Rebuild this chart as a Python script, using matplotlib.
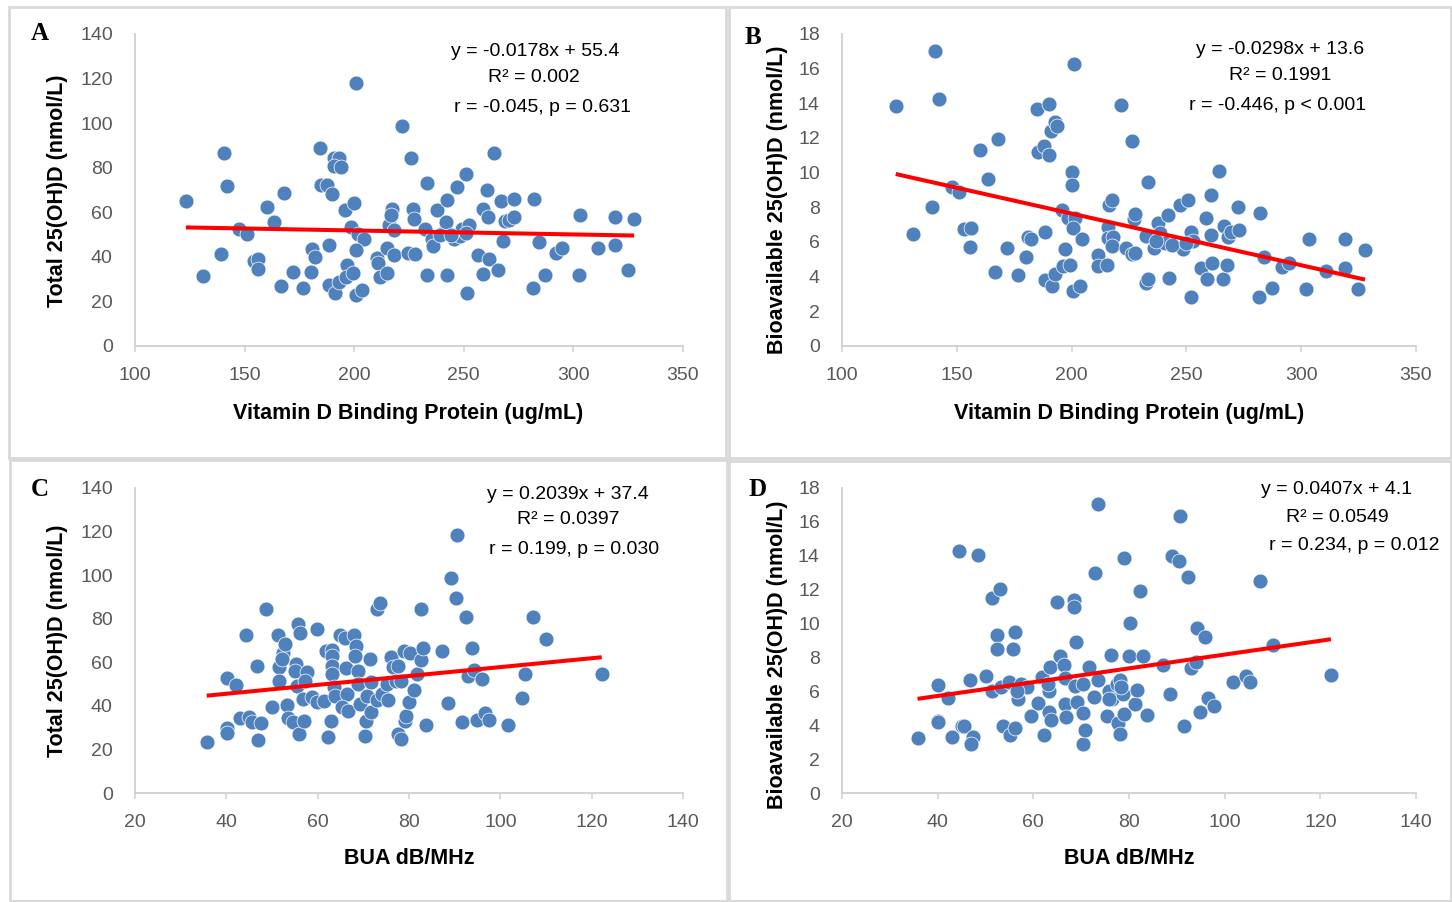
import matplotlib
matplotlib.use("Agg")
import matplotlib.pyplot as plt
from matplotlib.patches import Rectangle
import numpy as np

# ---------------- DATA ----------------
dbp_a = [123.2,130.8,140.4,142.1,139.1,147.6,151.0,154.2,156.3,155.9,160.4,163.6,166.8,168.0,171.9,176.7,
         180.1,180.8,182.3,184.6,185.0,187.8,188.4,189.9,188.4,190.6,192.9,191.0,193.8,191.4,192.9,195.9,
         196.9,196.1,199.3,199.9,200.8,198.4,201.6,204.6,200.8,200.6,203.5,210.6,210.9,211.6,215.1,215.1,
         215.7,217.2,216.9,218.2,218.0,221.6,226.1,224.6,227.6,226.9,227.3,232.2,233.3,233.1,235.6,236.1,
         238.0,240.3,241.8,242.2,242.4,245.6,246.7,248.2,249.4,250.9,252.2,251.6,256.3,258.6,260.5,261.1,
         261.6,258.6,263.7,265.4,266.9,267.9,268.6,270.7,273.0,272.8,282.0,281.5,284.1,287.1,292.0,294.9,
         302.4,303.2,311.1,319.0,319.0,324.9,327.7,239.1,251.0,244.0]
total_a = [64.9,31.2,86.5,72.0,41.1,52.3,50.1,38.1,39.2,34.4,62.5,55.6,27.1,68.6,33.2,26.0,
           33.2,43.5,39.9,88.9,72.2,72.2,45.1,68.0,27.4,84.2,84.2,80.7,80.4,23.9,28.7,61.0,
           36.5,31.1,32.9,64.0,117.8,53.4,50.4,48.1,43.2,23.0,25.1,39.6,37.4,31.1,32.9,44.1,
           54.4,61.6,58.6,51.9,40.7,98.7,84.2,41.9,41.1,61.3,57.1,52.3,73.1,32.0,47.8,44.8,
           61.0,50.8,55.6,65.3,32.0,48.1,71.2,49.3,52.6,77.1,54.3,23.9,40.8,61.3,70.1,58.0,
           39.2,32.4,86.5,34.1,65.0,47.1,55.9,56.5,58.0,66.1,66.1,26.0,46.8,32.0,41.9,44.1,
           32.0,59.0,44.1,58.0,45.1,34.1,57.1,49.6,50.8,50.0]

dbp_b = [123.4,130.9,140.4,142.2,139.2,147.9,150.9,153.3,156.3,155.9,160.2,163.4,168.1,166.8,171.7,176.7,
         180.2,180.8,182.2,184.8,185.2,187.8,190.3,190.3,190.9,192.7,193.7,188.2,188.2,191.3,192.7,196.3,
         199.2,197.0,195.7,198.3,201.4,200.0,200.0,201.0,200.8,204.4,200.8,203.8,211.5,211.7,215.5,215.7,
         216.5,217.5,215.7,218.1,217.7,221.6,226.2,223.6,226.2,227.8,227.0,227.4,233.3,232.3,233.3,232.3,
         235.7,237.7,238.7,242.2,240.8,242.4,247.1,248.6,250.8,251.9,251.9,252.9,256.5,258.5,258.9,260.5,
         260.9,261.3,264.0,265.8,266.2,267.6,268.0,269.6,273.1,272.5,282.1,281.5,284.0,287.2,291.8,294.9,
         302.3,303.4,311.0,318.9,318.9,324.8,327.8,236.7,243.8,249.8]
bio_b = [13.83,6.47,17.04,14.23,8.03,9.16,8.87,6.76,6.80,5.72,11.33,9.66,11.97,4.28,5.63,4.11,
         5.13,6.30,6.15,13.66,11.20,11.53,11.01,13.98,12.41,12.93,12.68,6.59,3.78,3.46,4.17,4.61,
         4.67,5.57,7.84,7.36,7.40,10.03,9.30,16.25,6.78,6.19,3.17,3.46,5.24,4.61,4.65,6.86,
         8.11,8.45,6.24,6.30,5.76,13.91,11.85,5.67,5.28,5.38,7.34,7.59,9.47,3.65,3.84,6.34,
         5.67,7.11,6.53,7.53,5.95,3.92,8.11,5.57,8.45,6.59,2.84,6.05,4.51,7.38,3.88,8.70,
         6.40,4.80,10.08,3.88,6.92,4.65,6.30,6.59,6.67,8.03,7.65,2.84,5.15,3.36,4.57,4.76,
         3.27,6.15,4.32,6.15,4.51,3.27,5.53,6.05,5.80,5.95]

bua_c = [35.7,40.1,40.1,40.2,42.2,43.0,44.4,45.0,45.6,46.7,46.9,47.6,48.6,50.1,51.3,51.5,51.5,52.3,52.8,52.1,
         53.2,53.5,54.7,55.3,55.0,55.8,56.2,56.0,55.5,56.9,56.7,57.6,57.3,58.8,59.8,59.8,61.3,61.8,63.1,63.2,
         63.2,63.1,63.6,63.7,62.3,62.9,64.9,65.9,66.1,66.4,65.4,66.6,68.0,68.3,68.2,68.8,68.8,69.2,70.4,70.6,
         70.8,71.5,71.7,71.7,72.9,73.1,73.6,74.1,75.1,75.5,76.1,76.4,77.7,77.1,78.2,77.7,78.2,79.2,79.4,79.0,
         80.2,80.0,81.2,81.8,82.6,82.6,83.1,83.8,87.3,88.6,89.1,90.4,90.6,91.6,92.4,93.0,93.8,94.3,94.8,96.0,
         96.7,97.6,101.6,104.7,105.3,107.2,110.1,122.2]
total_c = [23.6,29.9,27.4,52.7,49.6,34.3,72.3,34.8,32.5,58.5,24.4,32.3,84.4,39.4,72.3,57.7,51.6,64.2,68.5,61.6,
           40.6,34.3,32.8,59.3,56.2,77.7,73.4,27.1,49.0,33.2,43.2,55.4,51.6,44.0,75.4,41.7,42.4,65.4,65.7,63.1,
           58.5,54.7,48.6,44.7,25.6,33.2,72.3,71.1,57.4,45.5,39.4,37.8,72.3,67.7,62.8,56.2,50.1,40.9,26.3,33.2,
           44.7,61.6,50.8,37.1,42.7,84.5,87.1,45.5,50.1,42.7,62.3,57.7,58.4,51.6,51.3,27.1,24.8,33.2,35.2,65.4,
           64.3,41.7,47.5,54.7,84.5,61.1,66.5,31.4,65.4,41.2,98.8,89.4,118.2,32.5,80.7,53.9,66.5,56.5,33.5,52.4,
           36.8,33.5,31.4,43.5,54.7,80.7,70.5,54.4]

bua_d = [35.8,40.1,40.1,40.1,42.2,42.9,44.4,45.1,45.6,46.7,47.3,47.0,48.5,50.1,51.4,53.0,51.4,52.5,52.5,53.3,
         53.6,55.1,55.0,55.8,56.2,56.2,56.7,57.5,58.7,59.6,61.0,61.8,62.3,63.3,63.5,63.3,63.6,64.9,65.5,66.5,
         66.7,66.7,66.9,68.4,68.4,68.9,69.1,68.8,70.3,70.4,70.3,70.9,71.6,72.7,72.8,73.6,73.6,75.4,75.9,76.2,
         76.4,77.4,77.7,78.2,78.2,79.0,78.8,79.0,80.1,80.3,81.3,81.7,82.4,83.0,83.8,87.2,88.5,89.0,90.5,90.6,
         91.5,92.4,93.0,94.0,94.3,95.8,94.8,96.6,97.7,101.7,104.5,105.2,107.3,110.1,122.2,56.5,63.0,75.9,78.4]
bio_d = [3.23,6.40,4.27,4.17,5.59,3.29,14.28,3.98,3.98,6.68,3.33,2.89,14.06,6.89,11.52,12.03,6.01,9.33,8.51,6.24,
         3.98,3.45,6.54,8.51,9.49,3.84,5.55,6.44,6.24,4.53,5.32,6.87,3.45,6.01,7.42,4.77,4.31,11.26,8.11,7.58,
         6.79,5.26,4.51,11.40,10.97,8.90,5.36,6.34,6.44,4.71,2.89,3.72,7.46,5.65,12.98,17.07,6.64,4.57,6.01,8.15,
         5.55,6.44,4.14,3.49,6.64,13.88,5.85,4.67,8.11,10.04,5.26,6.05,11.91,8.07,4.63,7.58,5.85,13.96,13.69,16.33,
         3.94,12.74,7.37,7.72,9.75,9.20,4.77,5.59,5.16,6.54,6.93,6.54,12.50,8.76,6.97,6.01,6.44,5.55,6.24]

fits = [(-0.0178, 55.4), (-0.0298, 13.6), (0.2039, 37.4), (0.0407, 4.1)]
annotations = [
    ["y = -0.0178x + 55.4", "R\u00b2 = 0.002", "r = -0.045, p = 0.631"],
    ["y = -0.0298x + 13.6", "R\u00b2 = 0.1991", "r = -0.446, p < 0.001"],
    ["y = 0.2039x + 37.4", "R\u00b2 = 0.0397", "r = 0.199, p = 0.030"],
    ["y = 0.0407x + 4.1", "R\u00b2 = 0.0549", "r = 0.234, p = 0.012"],
]
panel_letters = ["A", "B", "C", "D"]
xlabels = ["Vitamin D Binding Protein (ug/mL)", "Vitamin D Binding Protein (ug/mL)", "BUA dB/MHz", "BUA dB/MHz"]
ylabels = ["Total 25(OH)D (nmol/L)", "Bioavailable 25(OH)D (nmol/L)", "Total 25(OH)D (nmol/L)", "Bioavailable 25(OH)D (nmol/L)"]
xlims = [(100, 350, 50), (100, 350, 50), (20, 140, 20), (20, 140, 20)]
ylims = [(0, 140, 20), (0, 18, 2), (0, 140, 20), (0, 18, 2)]

# ---------------- FIGURE ----------------
W, H = 1452, 902
fig = plt.figure(figsize=(W / 100, H / 100), dpi=100)
fig.patch.set_facecolor("white")

def fx(x):
    return x / W

def fy(y):
    return 1 - y / H

# panel borders
borders = [(9, 7, 726, 458), (729, 7, 1451, 458), (10, 460, 727, 901), (729, 461, 1451, 901)]
for (x0, y0, x1, y1) in borders:
    fig.patches.append(Rectangle((fx(x0), fy(y1)), fx(x1) - fx(x0), fy(y0) - fy(y1),
                                 transform=fig.transFigure, fill=False,
                                 edgecolor="#d9d9d9", linewidth=2))

# axes pixel boxes: (left, right, top, bottom)
boxes = [(135, 683, 34, 346), (842, 1416, 34, 346), (135, 683, 488, 793), (842, 1416, 488, 793)]
datasets = [(dbp_a, total_a), (dbp_b, bio_b), (bua_c, total_c), (bua_d, bio_d)]

letter_pos = [(40, 33), (753, 37), (40, 490), (758, 489)]
ylabel_pos = [(58, 191), (777, 200), (58, 641), (777, 655)]
xlabel_pos = [(408, 413), (1129, 413), (409, 859), (1129, 859)]
ann_pos = [
    [(535, 52), (534, 78), (542, 107)],
    [(1280, 49), (1280, 76), (1278, 105)],
    [(568, 494), (568, 520), (574, 550)],
    [(1337, 490), (1337, 517), (1354, 545)],
]

tick_font = "Liberation Sans"
for i in range(4):
    l, r, t, b = boxes[i]
    ax = fig.add_axes([fx(l), fy(b), fx(r) - fx(l), fy(t) - fy(b)])
    xs, ys = datasets[i]
    ax.scatter(xs, ys, s=115, color="#4f81bd", edgecolors="white", linewidths=0.5, zorder=3, clip_on=False)
    m, c = fits[i]
    xx = np.array([min(xs), max(xs)])
    ax.plot(xx, m * xx + c, color="#ff0000", linewidth=2.9, zorder=4, solid_capstyle="butt")
    x0, x1, xs_ = xlims[i]
    y0, y1, ys_ = ylims[i]
    ax.set_xlim(x0, x1)
    ax.set_ylim(y0, y1)
    ax.set_xticks(np.arange(x0, x1 + 0.1, xs_))
    ax.set_yticks(np.arange(y0, y1 + 0.1, ys_))
    for sp in ["top", "right"]:
        ax.spines[sp].set_visible(False)
    for sp in ["left", "bottom"]:
        ax.spines[sp].set_color("#d0d0d0")
        ax.spines[sp].set_linewidth(1.3)
    ax.tick_params(axis="x", direction="out", length=4, width=1.1, color="#d0d0d0",
                   pad=11, labelsize=14, labelcolor="#595959")
    ax.tick_params(axis="y", length=0, pad=16, labelsize=14, labelcolor="#595959")
    for lab in ax.get_xticklabels() + ax.get_yticklabels():
        lab.set_fontfamily(tick_font)
    ax.patch.set_alpha(0)

    # labels
    fig.text(fx(letter_pos[i][0]), fy(letter_pos[i][1]), panel_letters[i], fontsize=18,
             fontweight="bold", family="Liberation Serif", ha="center", va="center")
    fig.text(fx(ylabel_pos[i][0]), fy(ylabel_pos[i][1]), ylabels[i], rotation=90, fontsize=15.5,
             fontweight="bold", family="Liberation Sans", ha="center", va="center")
    fig.text(fx(xlabel_pos[i][0]), fy(xlabel_pos[i][1]), xlabels[i], fontsize=15.5,
             fontweight="bold", family="Liberation Sans", ha="center", va="center")
    for j, line in enumerate(annotations[i]):
        px, py = ann_pos[i][j]
        fig.text(fx(px), fy(py), line, fontsize=14, family="Liberation Sans",
                 ha="center", va="center", color="black")

fig.savefig("out.png", dpi=100, facecolor="white")
